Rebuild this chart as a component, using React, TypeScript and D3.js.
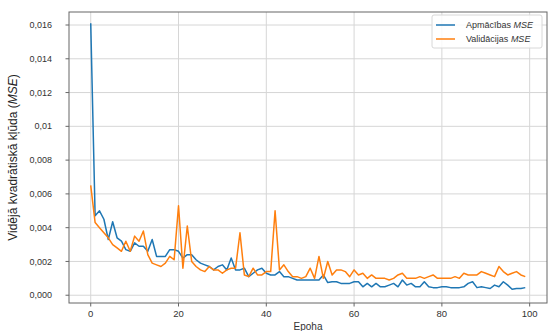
import React from "react";
import * as d3 from "d3";

const trainMse = [
  0.0161, 0.0047, 0.005, 0.0045, 0.0033, 0.00435, 0.0034, 0.0032, 0.0027, 0.0026,
  0.0031, 0.0029, 0.0029, 0.0026, 0.0033, 0.0023, 0.0023, 0.0023, 0.0027, 0.0027,
  0.0026, 0.0022, 0.0024, 0.0024, 0.0021, 0.0019, 0.0018, 0.0017, 0.0015, 0.0017,
  0.0018, 0.0015, 0.0022, 0.0015, 0.0015, 0.0016, 0.0011, 0.0013, 0.0015, 0.0016,
  0.0013, 0.0012, 0.0012, 0.0014, 0.0011, 0.0011, 0.001, 0.0009, 0.0009, 0.0009,
  0.0009, 0.0009, 0.0009, 0.0012, 0.00075, 0.0008, 0.0008, 0.0007, 0.0007, 0.0007,
  0.0008, 0.0008, 0.0005, 0.0007, 0.0005, 0.0007, 0.0005, 0.0005, 0.0006, 0.0007,
  0.0005, 0.0009, 0.0006, 0.0007, 0.0005, 0.0005, 0.0008, 0.0005, 0.00045, 0.00045,
  0.0005, 0.0005, 0.00045, 0.00045, 0.00045, 0.0005, 0.0007, 0.0008, 0.00045, 0.0005,
  0.00045, 0.0004, 0.0006, 0.0005, 0.0008, 0.0006, 0.00035, 0.0004, 0.0004, 0.00045,
];

const valMse = [
  0.0065, 0.0043, 0.004, 0.0037, 0.0034, 0.003, 0.0028, 0.0026, 0.0032, 0.0026,
  0.0035, 0.0032, 0.0038, 0.0024, 0.0019, 0.0018, 0.0017, 0.0019, 0.0023, 0.0021,
  0.0053, 0.0016, 0.0041, 0.002, 0.0017, 0.0015, 0.0014, 0.0017, 0.0015, 0.0015,
  0.0013, 0.0015, 0.0016, 0.0016, 0.0037, 0.0012, 0.0011, 0.0016, 0.0012, 0.0012,
  0.0014, 0.0014, 0.005, 0.0015, 0.0018, 0.0014, 0.0011, 0.0011, 0.001, 0.0011,
  0.0016, 0.001, 0.0023, 0.001, 0.002, 0.0012, 0.0015, 0.0015, 0.0014, 0.0011,
  0.0015, 0.0012, 0.0013, 0.001, 0.0012, 0.001, 0.001, 0.001, 0.0009, 0.001,
  0.0012, 0.0013, 0.001, 0.001, 0.001, 0.0011, 0.001, 0.0011, 0.0012, 0.001,
  0.001, 0.001, 0.001, 0.0011, 0.001, 0.0013, 0.0012, 0.0012, 0.0012, 0.0014,
  0.0013, 0.0012, 0.0011, 0.0017, 0.0014, 0.0012, 0.0013, 0.0014, 0.0012, 0.0011,
];

const xTicks = [0, 20, 40, 60, 80, 100];
const yTicks = [0, 0.002, 0.004, 0.006, 0.008, 0.01, 0.012, 0.014, 0.016];
const yTickLabels = ["0,000", "0,002", "0,004", "0,006", "0,008", "0,01", "0,012", "0,014", "0,016"];
const seriesNames = ["Apmācības", "Validācijas"];
const colors = ["#1f77b4", "#ff7f0e"];

const W = 549;
const H = 331;
const m = { left: 69, right: 2, top: 12, bottom: 28 };
const font = "'Liberation Sans', Arial, sans-serif";

export default function App() {
  const epochs = d3.range(trainMse.length);
  const x = d3.scaleLinear().domain([-4.95, 103.95]).range([m.left, W - m.right]);
  const y = d3.scaleLinear().domain([-0.00046, 0.01677]).range([H - m.bottom, m.top]);
  const line = d3
    .line<number>()
    .x((_, i) => x(epochs[i]))
    .y((d) => y(d));

  const series = [trainMse, valMse];
  const lx = 432;
  const ly = 15;

  return (
    <svg width={W} height={H} style={{ position: "absolute", left: 0, top: 0, fontFamily: font }}>
      <rect width={W} height={H} fill="#fff" />
      {/* grid */}
      {xTicks.map((t) => (
        <line key={"gx" + t} x1={x(t)} x2={x(t)} y1={m.top} y2={H - m.bottom} stroke="#d6d6d6" strokeWidth={1} />
      ))}
      {yTicks.map((t) => (
        <line key={"gy" + t} x1={m.left} x2={W - m.right} y1={y(t)} y2={y(t)} stroke="#d6d6d6" strokeWidth={1} />
      ))}
      {/* lines */}
      <g clipPath="url(#plot)">
        {series.map((s, i) => (
          <path key={i} d={line(s) || ""} fill="none" stroke={colors[i]} strokeWidth={1.5} strokeLinejoin="round" />
        ))}
      </g>
      <defs>
        <clipPath id="plot">
          <rect x={m.left} y={m.top} width={W - m.right - m.left} height={H - m.bottom - m.top} />
        </clipPath>
      </defs>
      {/* frame */}
      <rect
        x={m.left}
        y={m.top}
        width={W - m.right - m.left}
        height={H - m.bottom - m.top}
        fill="none"
        stroke="#666"
        strokeWidth={1}
      />
      {/* y axis */}
      {yTicks.map((t, i) => (
        <g key={"yt" + t}>
          <line x1={m.left - 3.5} x2={m.left} y1={y(t)} y2={y(t)} stroke="#666" />
          <text x={m.left - 17} y={y(t)} dy="0.35em" textAnchor="end" fontSize={9} fill="#333">
            {yTickLabels[i]}
          </text>
        </g>
      ))}
      {/* x axis */}
      {xTicks.map((t) => (
        <g key={"xt" + t}>
          <line x1={x(t)} x2={x(t)} y1={H - m.bottom} y2={H - m.bottom + 3.5} stroke="#666" />
          <text x={x(t)} y={H - m.bottom + 14} textAnchor="middle" fontSize={9.5} fill="#333">
            {t}
          </text>
        </g>
      ))}
      <text x={(m.left + W - m.right) / 2} y={H - 1} textAnchor="middle" fontSize={10} fill="#333">
        Epoha
      </text>
      <text
        transform={`translate(17,${(m.top + H - m.bottom) / 2}) rotate(-90)`}
        textAnchor="middle"
        fontSize={12}
        fill="#222"
      >
        Vidējā kvadrātiskā kļūda (<tspan fontStyle="italic">MSE</tspan>)
      </text>
      {/* legend */}
      <rect x={lx} y={ly} width={110} height={33} rx={2} fill="#fff" fillOpacity={0.85} stroke="#d8d8d8" />
      {seriesNames.map((n, i) => (
        <g key={n}>
          <line x1={lx + 4} x2={lx + 23} y1={ly + 10 + i * 14} y2={ly + 10 + i * 14} stroke={colors[i]} strokeWidth={1.5} />
          <text x={lx + 34} y={ly + 10 + i * 14} dy="0.35em" fontSize={9} fill="#333">
            {n} <tspan fontStyle="italic">MSE</tspan>
          </text>
        </g>
      ))}
    </svg>
  );
}
